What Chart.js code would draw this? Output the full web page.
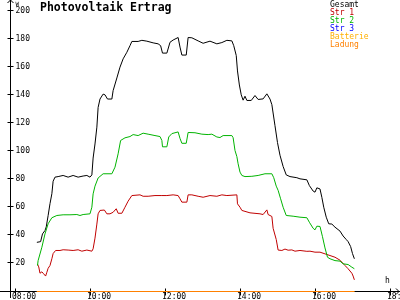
<!DOCTYPE html>
<html>
<head>
<meta charset="utf-8">
<script src="https://cdn.jsdelivr.net/npm/chart.js@4/dist/chart.umd.min.js"></script>
<style>
  html, body { margin: 0; padding: 0; background: #fff; }
  canvas { display: block; }
</style>
</head>
<body>
<canvas id="pvChart" width="400" height="300"></canvas>
<script>
// values (time of day, watt)
const gesamtTimes = ['08:35','08:41','08:44','08:48','08:50','08:53','08:56','08:59','09:01','09:04','09:09','09:17','09:25','09:33','09:41','09:49','09:55','10:00','10:03','10:05','10:08','10:11','10:13','10:16','10:21','10:24','10:28','10:35','10:37','10:43','10:48','10:53','10:59','11:04','11:07','11:17','11:23','11:31','11:41','11:49','11:53','11:56','12:03','12:08','12:13','12:21','12:24','12:27','12:34','12:37','12:43','12:53','13:01','13:12','13:23','13:31','13:39','13:47','13:50','13:54','13:56','13:59','14:02','14:05','14:08','14:11','14:18','14:24','14:29','14:37','14:43','14:48','14:51','14:56','15:00','15:04','15:09','15:14','15:20','15:31','15:36','15:47','15:51','15:57','16:00','16:03','16:08','16:11','16:14','16:18','16:22','16:27','16:32','16:40','16:45','16:50','16:53','16:57','17:00','17:03'];
const gesamtValues = [35,35.5,41,43.4,46,54,62.5,69.6,78.5,81.4,81.8,82.6,81.4,82.6,81.4,82.2,82.6,81.4,83,95,105,117,131,137,140.5,140,137,137,143,152,159.7,165.6,170.3,175,178,178,178.8,178.2,177,176.3,175,169.7,169.7,177.4,179,180.8,174,168.3,168.3,180.8,180.6,178.4,176.7,178.2,176.3,177.2,178.8,178.4,175,168,157,147,140,136.2,139,136,136,139.5,136.7,137.1,140.7,137,133,118,106,97,89,83,81.8,81,80.2,79.5,75.4,71.5,70.7,73.8,73,67,60,52.9,48.2,48,45.8,43,39.5,37,35.5,32,27,23.3];

const str1Times = ['08:36','08:38','08:40','08:43','08:45','08:49','08:51','08:53','08:56','08:59','09:01','09:05','09:12','09:17','09:25','09:33','09:41','09:47','09:55','10:03','10:05','10:08','10:11','10:13','10:16','10:23','10:27','10:32','10:37','10:42','10:45','10:51','10:56','11:01','11:07','11:20','11:25','11:33','11:44','11:55','12:03','12:13','12:21','12:24','12:27','12:35','12:37','12:43','12:53','13:01','13:12','13:23','13:31','13:39','13:55','13:56','14:00','14:03','14:16','14:32','14:37','14:43','14:45','14:51','14:53','14:58','15:01','15:07','15:12','15:17','15:23','15:28','15:36','15:47','15:52','16:00','16:08','16:16','16:24','16:32','16:40','16:48','16:53','16:59','17:01','17:03'];
const str1Values = [19.5,17.5,13,14,13,11,13.7,16.5,18.5,23.3,27,29.2,29.2,29.7,29.5,29.2,29.7,28.7,29.5,28.7,30.4,38,48,55.3,57.7,58,55.3,55.3,56.4,58.9,55.7,55.7,60,64.3,68.3,68.8,67.8,67.8,68.3,68.3,68.3,68.8,68.3,66,63.6,63.6,68.8,68.8,67.8,67.1,68.3,67.8,68.8,68.3,68.8,62.4,60,57.7,56,55.3,54.8,58.1,54.8,53.4,45,37,29.5,29.2,30.2,29.4,29.6,28.7,29.2,28.6,28.7,28,28,26.8,25.6,24.4,22.3,18.5,16.2,13,11,8.3];

const str2Times = ['08:36','08:37','08:43','08:48','08:53','08:59','09:07','09:17','09:28','09:39','09:44','09:49','10:00','10:03','10:05','10:08','10:13','10:21','10:35','10:40','10:45','10:49','10:56','11:04','11:09','11:17','11:25','11:33','11:44','11:52','11:55','11:56','12:03','12:06','12:11','12:21','12:24','12:27','12:34','12:37','12:48','12:59','13:09','13:15','13:23','13:28','13:33','13:47','13:49','13:52','13:55','13:57','14:00','14:03','14:08','14:19','14:29','14:40','14:51','14:54','14:58','15:01','15:05','15:09','15:14','15:25','15:36','15:47','15:51','15:57','16:00','16:03','16:08','16:12','16:16','16:20','16:24','16:32','16:40','16:45','16:53','16:59','17:03'];
const str2Values = [18.5,22,31.5,41,48.2,52.5,54.1,54.6,54.6,54.8,54.1,54.8,55.3,60,69.5,75,80.8,83.8,83.8,88.5,98,107.5,109.4,110.3,111.7,111,112.7,112,111,110.3,107.5,103,103,110,112.4,113.6,109,105.5,105.5,113.2,113,112,111.7,112,110,109.6,111,111,109.5,100.4,96,90.9,85,82.6,81.8,82,82.6,83.8,83.8,81,75,72,66,60,54.1,53.6,52.9,52.5,49.3,45,43.9,46.5,46.3,39,31,24.4,23.3,22,21.6,19.7,19.2,17.3,16.2];

const str3Times = [];
const str3Values = [];

const batterieTimes = ['08:35','17:03'];
const batterieValues = [0,0];
const ladungTimes = ['08:35','17:03'];
const ladungValues = [0,0];

const seriesNames = ['Gesamt','Str 1','Str 2','Str 3','Batterie','Ladung'];
const seriesColors = ['#000000','#c00000','#00b400','#0000ff','#ffb000','#ff8000'];

const yTicks = [20,40,60,80,100,120,140,160,180,200];
const xTicks = [8,10,12,14,16,18];
const xTickLabels = ['08:00','10:00','12:00','14:00','16:00','18:'];

const toHours = (t) => {
  const [h, m] = t.split(':').map(Number);
  return h + m / 60;
};
const toPoints = (times, values) => times.map((t, i) => ({ x: toHours(t), y: values[i] }));

const seriesData = [
  toPoints(gesamtTimes, gesamtValues),
  toPoints(str1Times, str1Values),
  toPoints(str2Times, str2Values),
  toPoints(str3Times, str3Values),
  toPoints(batterieTimes, batterieValues),
  toPoints(ladungTimes, ladungValues),
];

const mono = '"DejaVu Sans Mono", monospace';

// axes, ticks and arrows drawn under the lines
const axesPlugin = {
  id: 'axes',
  beforeDatasetsDraw(chart) {
    const ctx = chart.ctx;
    const xs = chart.scales.x, ys = chart.scales.y;
    const ax = Math.round(xs.getPixelForValue(xs.min)) + 0.5;
    const ay = Math.round(ys.getPixelForValue(0)) - 0.5;
    ctx.save();
    ctx.strokeStyle = '#000';
    ctx.lineWidth = 1;
    ctx.beginPath();
    ctx.moveTo(ax, 0); ctx.lineTo(ax, 298);
    ctx.moveTo(0, ay); ctx.lineTo(400, ay);
    // arrow heads
    ctx.moveTo(ax - 3, 3); ctx.lineTo(ax, 0); ctx.lineTo(ax + 3, 3);
    ctx.moveTo(396, ay - 3); ctx.lineTo(399, ay); ctx.lineTo(396, ay + 3);
    yTicks.forEach(v => {
      const y = Math.round(ys.getPixelForValue(v)) - 0.5;
      ctx.moveTo(ax - 3, y); ctx.lineTo(ax + 3, y);
    });
    xTicks.forEach(v => {
      const x = Math.round(xs.getPixelForValue(v)) + 0.5;
      ctx.moveTo(x, ay - 3); ctx.lineTo(x, ay + 4);
    });
    ctx.stroke();

    ctx.fillStyle = '#000';
    ctx.font = '8px ' + mono;
    ctx.textAlign = 'left';
    ctx.textBaseline = 'middle';
    yTicks.forEach(v => {
      ctx.fillText(String(v), ax + 5, Math.round(ys.getPixelForValue(v)));
    });
    ctx.textBaseline = 'alphabetic';
    xTicks.forEach((v, i) => {
      ctx.fillText(xTickLabels[i], Math.round(xs.getPixelForValue(v)) - 3, 299);
    });
    ctx.fillText('h', 385, 283);
    ctx.font = '6px ' + mono;
    ctx.fillText('W', ax + 5, 6);
    ctx.restore();
  },
  afterDraw(chart) {
    const ctx = chart.ctx;
    ctx.save();
    ctx.font = 'bold 11.5px ' + mono;
    ctx.fillStyle = '#000';
    ctx.textAlign = 'left';
    ctx.fillText('Photovoltaik Ertrag', 40, 11);
    // legend in the top right corner
    ctx.font = '8px ' + mono;
    seriesNames.forEach((name, i) => {
      ctx.fillStyle = seriesColors[i];
      ctx.fillText(name, 330, 7 + i * 8);
    });
    ctx.restore();
  }
};

const chart = new Chart(document.getElementById('pvChart'), {
  type: 'line',
  data: {
    datasets: seriesNames.map((name, i) => ({
      label: name,
      data: seriesData[i],
      borderColor: seriesColors[i],
      borderWidth: 1,
      pointRadius: 0,
      tension: 0,
      fill: false,
      clip: false,
    })).reverse()
  },
  options: {
    responsive: false,
    animation: false,
    devicePixelRatio: 1,
    layout: { padding: { left: 10, right: 0, top: 0, bottom: 8.5 } },
    scales: {
      x: { type: 'linear', display: false, min: 7.8667, max: 18.2667 },
      y: { display: false, min: 0, max: 207.5 }
    },
    plugins: {
      legend: { display: false },
      tooltip: { enabled: false }
    }
  },
  plugins: [axesPlugin]
});
</script>
</body>
</html>
